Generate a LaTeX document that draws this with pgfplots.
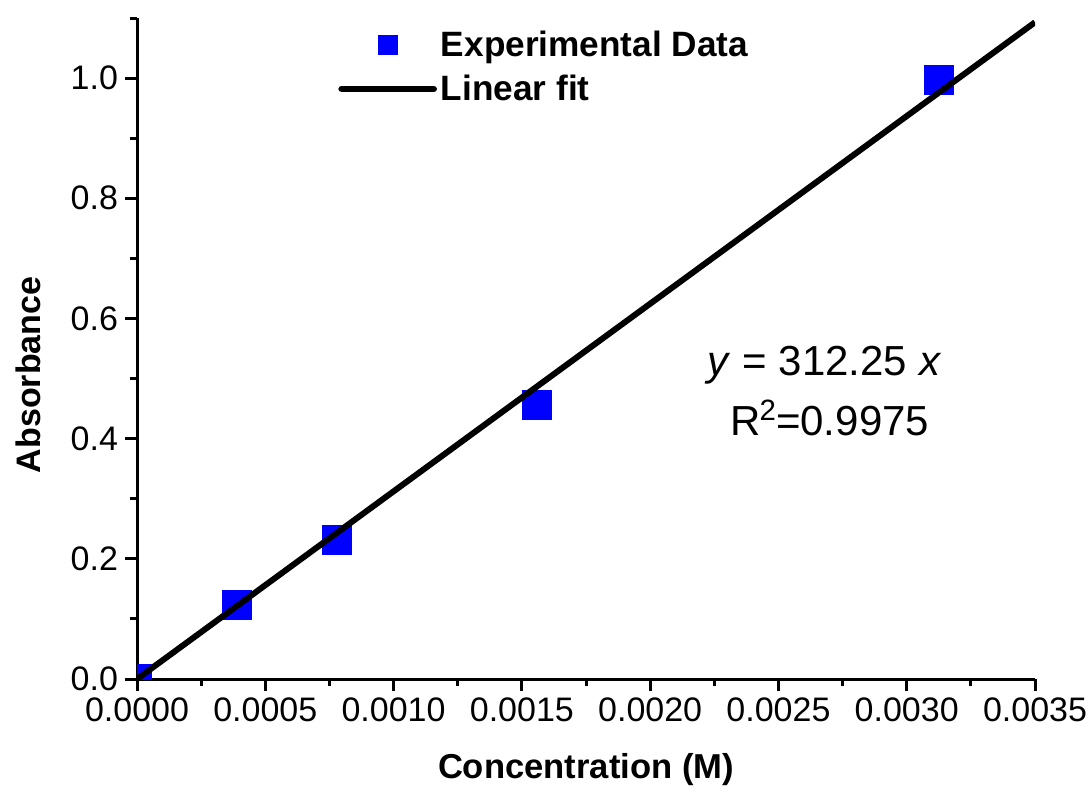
\documentclass[border=0pt]{standalone}
\usepackage{pgfplots}
\pgfplotsset{compat=1.18}
\usepackage{fontspec}
\setmainfont{Liberation Sans}
\begin{document}
\begin{tikzpicture}
\useasboundingbox (-68.5pt,-57.5pt) rectangle (476.5pt,339.5pt);
\begin{axis}[
  scale only axis,
  width=449pt, height=330.5pt,
  xmin=0, xmax=0.0035, ymin=0, ymax=1.1,
  axis lines*=left,
  axis line style={line width=1.5pt},
  xtick={0,0.0005,0.001,0.0015,0.002,0.0025,0.003,0.0035},
  minor xtick={0.00025,0.00075,0.00125,0.00175,0.00225,0.00275,0.00325},
  ytick={0,0.2,0.4,0.6,0.8,1.0},
  minor ytick={0.1,0.3,0.5,0.7,0.9,1.1},
  tick align=outside,
  major tick length=6pt, minor tick length=3.5pt,
  every tick/.style={black, line width=1.5pt},
  scaled x ticks=false,
  x tick label style={/pgf/number format/.cd, fixed, fixed zerofill, precision=4, /tikz/.cd},
  y tick label style={/pgf/number format/.cd, fixed, fixed zerofill, precision=1, /tikz/.cd},
  /pgf/number format/assume math mode=true,
  tick label style={font=\fontsize{17}{20}\selectfont},
  xlabel={Concentration (M)}, ylabel={Absorbance},
  every axis x label/.style={at={(axis description cs:0.5,-0.1377)}, anchor=center, font=\bfseries\fontsize{17.3}{20}\selectfont},
  every axis y label/.style={at={(axis description cs:-0.1214,0.46)}, anchor=center, rotate=90, font=\bfseries\fontsize{17}{20}\selectfont},
  clip marker paths=true,
  legend style={draw=none, fill=none, at={(0.2238,0.987)}, anchor=north west,
    font=\bfseries\fontsize{17.6}{20}\selectfont, inner sep=0pt, row sep=3.6pt},
  legend cell align=left,
]
\addplot[only marks, mark=square*, mark size=7.25pt, mark options={solid, fill=blue, draw=blue, line width=0pt},
  legend image code/.code={\fill[blue] (18.5pt,-4.75pt) rectangle (28pt,4.75pt);}]
  coordinates {(0,0) (0.00039,0.123) (0.00078,0.231) (0.00156,0.456) (0.003125,0.996)};
\addlegendentry{Experimental Data}
\addplot[black, line width=3pt,
  legend image code/.code={\draw[black,line width=3.3pt,line cap=round] (0pt,0pt) -- (46pt,0pt);}]
  coordinates {(0,0) (0.0035,1.092875)};
\addlegendentry{Linear fit}
\node at (axis cs:0.00268,0.5215) {\fontsize{21}{25}\selectfont\textit{y} = 312.25 \textit{x}};
\node at (axis cs:0.0027,0.434) {\fontsize{21}{25}\selectfont R\kern-0.5pt\textsuperscript{2}\kern-0.5pt=0.9975};
\end{axis}
\end{tikzpicture}
\end{document}
